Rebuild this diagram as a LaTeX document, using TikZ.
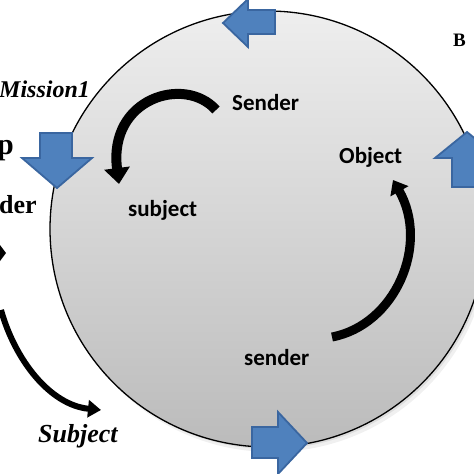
\documentclass[tikz,border=0pt]{standalone}
\usepackage{fontspec}
\setmainfont{Liberation Serif}
\newfontfamily\sansbold{Carlito}
\usetikzlibrary{arrows.meta}
\definecolor{arrowblue}{HTML}{4F81BD}
\definecolor{arrowedge}{HTML}{3A66A0}
\definecolor{disctop}{HTML}{EEEEEE}
\definecolor{discbot}{HTML}{BBBBBB}
\begin{document}
\begin{tikzpicture}[x=1pt,y=-1pt,
  blockarrow/.style={fill=arrowblue,draw=arrowedge,line width=1.8pt,line join=miter},
  inlabel/.style={font=\sansbold\bfseries\fontsize{23}{23}\selectfont,anchor=base west,inner sep=0pt},
  outlabel/.style={font=\bfseries\itshape\fontsize{24}{24}\selectfont,anchor=base west,inner sep=0pt},
  bigcut/.style={font=\bfseries\fontsize{26}{26}\selectfont,anchor=base west,inner sep=0pt},
  bigarc/.style={line width=10pt,line cap=butt,-{Triangle[width=25pt,length=16pt]}},
  midarc/.style={line width=9pt,line cap=butt,-{Triangle[width=20pt,length=13pt]}},
  thinarc/.style={line width=6pt,line cap=butt,-{Triangle[width=17pt,length=13pt]}}]
\useasboundingbox (0,0) rectangle (474,474);
\clip (0,0) rectangle (474,474);
\fill[white] (0,0) rectangle (474,474);
% disc with soft shadow
\fill[black,opacity=0.06] (272,234) circle (218);
\fill[black,opacity=0.08] (270,231) circle (218);
\shade[top color=disctop,bottom color=discbot] (268,229) circle (218);
\draw[line width=1.3pt] (268,229) circle (218);
% blue block arrows
\path[blockarrow] (223,23) -- (248,-1) -- (248,10) -- (275,10) -- (275,34) -- (248,34) -- (248,47) -- cycle;
\path[blockarrow] (57,188) -- (22,158) -- (40,158) -- (40,133) -- (72,133) -- (72,158) -- (92,158) -- cycle;
\path[blockarrow] (467,132) -- (435,158) -- (452,158) -- (452,187) -- (482,187) -- (482,158) -- (499,158) -- cycle;
\path[blockarrow] (307,443) -- (278,412) -- (278,427) -- (252,427) -- (252,458) -- (278,458) -- (278,474) -- cycle;
% labels inside
\node[inlabel] (snd) at (232,110) {Sender};
\node[inlabel] (subj) at (128,216) {subject};
\node[inlabel] (obj) at (339,163) {Object};
\node[inlabel] (snd2) at (244,365) {sender};
% labels outside
\node[outlabel] (mis) at (-1,97) {Mission1};
\node[font=\bfseries\fontsize{30}{30}\selectfont,anchor=base west,inner sep=0pt] (pcut) at (-3,154) {p};
\node[bigcut] (dcut) at (-1,213) {der};
\node[font=\bfseries\itshape\fontsize{26}{26}\selectfont,anchor=base west,inner sep=0pt] (bsubj) at (38,442) {Subject};
\node[font=\bfseries\fontsize{19}{19}\selectfont,anchor=base west,inner sep=0pt] (bcut) at (453,46) {B};
% curved arrows
\coordinate (a1s) at (216,110);
\coordinate (a1e) at (119,184);
\draw[bigarc] (a1s) .. controls (185,75) and (108,98) .. (a1e);
\coordinate (a2s) at (332,337);
\coordinate (a2e) at (393,180);
\draw[midarc] (a2s) .. controls (395,325) and (430,245) .. (a2e);
\coordinate (a3s) at (1,310);
\coordinate (a3e) at (101,410);
\draw[thinarc] (a3s) .. controls (15,360) and (50,405) .. (a3e);
\fill (0,245) -- (6,253) -- (0,261) -- cycle;
\end{tikzpicture}
\end{document}
